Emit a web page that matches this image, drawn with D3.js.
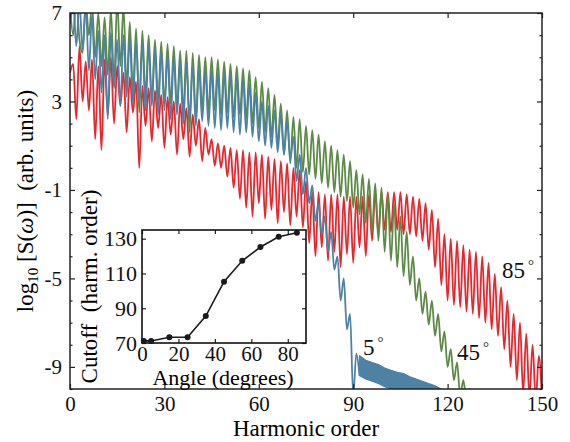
<!DOCTYPE html>
<html>
<head>
<meta charset="utf-8">
<script src="https://cdn.jsdelivr.net/npm/d3@7"></script>
<style>
  body { margin: 0; background: #fff; }
  svg { display: block; font-family: "Liberation Serif", "Times New Roman", serif; }
  .axis path { display: none; }
  .axis line { stroke: #222; stroke-width: 1.2; }
  .axis text { fill: #111; font-family: "Liberation Serif", "Times New Roman", serif; }
</style>
</head>
<body>
<script>
const width = 570,
    height = 442;

// log10 S(w) at each harmonic order, starting at order 0
const spectrum85 = [
    4.3, 4.7, 2.2, 5.5, 3.0, 4.8, 2.6, 4.9, 1.3, 4.6,
    0.8, 4.9, 2.4, 5.0, 2.0, 4.6, 2.8, 4.3, 1.6, 4.1,
    2.5, 3.9, 0.0, 3.7, 1.9, 3.6, 1.2, 3.5, 1.8, 3.3,
    0.9, 3.2, 1.5, 3.0, 0.6, 2.9, 1.3, 2.7, 0.5, 2.4,
    1.0, 2.2, 0.3, 1.8, 0.6, 1.3, 0.1, 1.1, 0.0, 1.0,
    -0.4, 0.9, -0.9, 0.8, -1.4, 0.8, -1.8, 0.7, -2.2, 0.7,
    -1.6, 0.6, -2.3, 0.5, -1.9, 0.4, -2.5, 0.3, -2.0, 0.2,
    -2.6, 0.0, -2.2, -0.1, -2.7, -0.6, -3.4, -1.1, -4.0, -1.1,
    -3.6, -1.2, -4.2, -1.2, -3.8, -1.2, -4.5, -1.3, -3.9, -1.3,
    -4.3, -1.3, -3.6, -1.3, -4.0, -1.2, -3.3, -1.1, -3.0, -1.1,
    -2.8, -1.1, -2.9, -1.1, -2.8, -1.1, -3.0, -1.2, -3.0, -1.3,
    -3.1, -1.4, -3.3, -1.6, -3.7, -1.9, -4.5, -2.3, -5.3, -3.0,
    -6.0, -3.2, -6.2, -3.3, -6.3, -3.5, -6.5, -3.7, -6.6, -3.8,
    -6.8, -4.0, -7.0, -4.3, -7.3, -4.8, -7.6, -5.4, -8.2, -6.0,
    -9.0, -6.6, -9.6, -7.0, -10.2, -7.5, -10.4, -8.0, -10.5, -8.5,
    -10.5
];

const spectrum45 = [
    7.4, 6.0, 7.6, 5.8, 5.2, 7.5, 6.0, 7.4, 5.0, 7.0,
    4.6, 6.8, 4.2, 7.2, 3.8, 7.6, 4.6, 7.3, 3.6, 6.6,
    3.4, 6.3, 2.5, 6.2, 3.2, 6.0, 3.0, 5.8, 3.0, 5.7,
    2.8, 5.6, 2.9, 5.5, 2.6, 5.3, 2.5, 5.3, 1.6, 5.2,
    2.2, 5.1, 2.6, 5.0, 2.5, 5.0, 2.6, 4.9, 2.4, 4.8,
    2.5, 4.7, 2.3, 4.6, 2.4, 4.5, 2.2, 4.4, 2.0, 4.1,
    1.8, 3.9, 1.6, 3.6, 1.4, 3.3, 1.0, 2.9, 0.6, 2.6,
    0.2, 2.3, 0.0, 2.2, -0.2, 1.9, -0.3, 1.7, -0.5, 1.5,
    -0.7, 1.2, -0.9, 1.0, -1.1, 0.8, -1.3, 0.6, -1.5, 0.3,
    -1.8, -0.1, -2.1, -0.3, -2.5, -0.5, -2.9, -0.7, -3.3, -0.9,
    -3.8, -1.2, -4.2, -1.6, -4.5, -2.2, -4.9, -2.9, -5.3, -4.0,
    -6.0, -5.0, -6.6, -5.6, -7.1, -6.0, -7.6, -6.6, -8.3, -7.4,
    -9.0, -8.2, -9.6, -8.8, -10.3, -9.6, -10.5, -10.0, -10.6
];

const spectrum5 = [
    6.5, 7.6, 5.5, 7.5, 5.3, 7.4, 4.4, 6.9, 4.0, 6.2,
    3.4, 6.0, 2.2, 6.1, 3.6, 5.8, 2.8, 6.0, 3.2, 5.9,
    2.9, 5.7, 3.0, 5.6, 2.6, 5.5, 2.8, 5.4, 2.4, 5.3,
    2.6, 5.1, 2.2, 5.0, 2.4, 4.8, 2.0, 4.7, 2.2, 4.6,
    1.9, 4.5, 2.1, 4.4, 1.9, 4.4, 1.8, 4.3, 1.7, 4.3,
    1.8, 4.2, 1.6, 4.1, 1.5, 4.0, 1.6, 3.8, 1.4, 3.4,
    1.2, 3.0, 1.0, 2.8, 0.9, 2.6, 0.7, 2.4, 0.6, 2.1,
    0.4, 1.4, -0.6, 0.6, -1.2, 0.0, -1.6, -0.8, -2.4, -1.6,
    -3.0, -2.2, -3.8, -2.9, -4.6, -4.0, -6.0, -5.0, -7.3, -6.6,
    -10.3, -8.4, -9.4
];

// noisy floor of the 5 degree spectrum past its cutoff
const tailOrders = [92, 94, 96, 98, 100, 102, 104, 106, 108, 110, 112, 114, 116, 118];
const tailTop = [-8.5, -8.7, -8.8, -8.9, -9.05, -9.15, -9.25, -9.3, -9.45, -9.55, -9.65, -9.75, -9.85, -10.0];
const tailBottom = [-9.4, -9.55, -9.65, -9.75, -9.9, -10.0, -10.1, -10.2, -10.3, -10.3, -10.3, -10.3, -10.3, -10.3];

// inset: cutoff vs angle
const angles = [1, 5, 15, 25, 35, 45, 55, 65, 75, 85];
const cutoffs = [71.2, 71.2, 73.3, 73.3, 85.5, 105.3, 117.3, 125.2, 131.1, 133.4];

const xTicks = [0, 30, 60, 90, 120, 150];
const yTicks = [7, 3, -1, -5, -9];
const insetXTicks = [0, 20, 40, 60, 80];
const insetYTicks = [70, 90, 110, 130];

const colors = {85: '#e8262c', 45: '#5b8a45', 5: '#4d82a4'};

const x = d3.scaleLinear().domain([0, 150]).range([70, 542]);
const y = d3.scaleLinear().domain([-10, 7]).range([389, 13]);

const ix = d3.scaleLinear().domain([0, 90]).range([142, 306]);
const iy = d3.scaleLinear().domain([70, 135]).range([343, 230]);

const plain = d => String(d);

const svg = d3.select('body').append('svg')
    .attr('width', width)
    .attr('height', height)
    ;

svg.append('clipPath').attr('id', 'plotclip')
    .append('rect')
    .attr('x', x(0)).attr('y', y(7))
    .attr('width', x(150) - x(0)).attr('height', y(-10) - y(7));

function renderSeries() {
    const g = svg.append('g').attr('clip-path', 'url(#plotclip)');
    const line = d3.line()
        .x((d, i) => x(i))
        .y(d => y(d))
        .curve(d3.curveMonotoneX)
        ;
    [[85, spectrum85], [45, spectrum45], [5, spectrum5]].forEach(([ang, vals]) => {
        g.append('path')
            .attr('d', line(vals))
            .attr('fill', 'none')
            .attr('stroke', colors[ang])
            .attr('stroke-width', 1.8)
            .attr('stroke-linejoin', 'round')
            ;
    });
    const area = d3.area()
        .x(d => x(d))
        .y0((d, i) => y(tailBottom[i]))
        .y1((d, i) => y(tailTop[i]))
        ;
    g.append('path')
        .attr('d', area(tailOrders))
        .attr('fill', colors[5])
        .attr('stroke', colors[5])
        .attr('stroke-width', 1.2)
        ;
}

function renderAxis() {
    const fs = 21;
    svg.append('g').attr('class', 'axis')
        .attr('transform', 'translate(0,' + y(-10) + ')')
        .call(d3.axisBottom(x).tickValues(xTicks).tickFormat(plain).tickSize(-5).tickSizeOuter(0).tickPadding(7))
        .selectAll('text').attr('font-size', fs);
    svg.append('g').attr('class', 'axis')
        .attr('transform', 'translate(0,' + y(7) + ')')
        .call(d3.axisTop(x).tickValues(xTicks).tickSize(-5).tickSizeOuter(0).tickFormat(''));

    svg.append('g').attr('class', 'axis')
        .attr('transform', 'translate(' + x(0) + ',0)')
        .call(d3.axisLeft(y).tickValues(yTicks).tickFormat(plain).tickSize(-5).tickSizeOuter(0).tickPadding(8))
        .selectAll('text').attr('font-size', fs);
    svg.append('g').attr('class', 'axis')
        .attr('transform', 'translate(' + x(150) + ',0)')
        .call(d3.axisRight(y).tickValues(yTicks).tickSize(-5).tickSizeOuter(0).tickFormat(''));

    const minor = d3.range(-10, 8).filter(v => !yTicks.includes(v));
    svg.append('g').attr('class', 'axis')
        .attr('transform', 'translate(' + x(0) + ',0)')
        .call(d3.axisLeft(y).tickValues(minor).tickSize(-2.5).tickSizeOuter(0).tickFormat(''));
    svg.append('g').attr('class', 'axis')
        .attr('transform', 'translate(' + x(150) + ',0)')
        .call(d3.axisRight(y).tickValues(minor).tickSize(-2.5).tickSizeOuter(0).tickFormat(''));

    svg.append('rect')
        .attr('x', x(0)).attr('y', y(7))
        .attr('width', x(150) - x(0)).attr('height', y(-10) - y(7))
        .attr('fill', 'none').attr('stroke', '#222').attr('stroke-width', 1.5);

    svg.append('text')
        .attr('x', (x(0) + x(150)) / 2).attr('y', 436)
        .attr('text-anchor', 'middle').attr('font-size', 23)
        .text('Harmonic order');

    const yl = svg.append('text')
        .attr('transform', 'translate(33,' + (y(7) + y(-10)) / 2 + ') rotate(-90)')
        .attr('text-anchor', 'middle').attr('font-size', 23);
    yl.append('tspan').text('log');
    yl.append('tspan').attr('font-size', 15).attr('dy', 5).text('10');
    yl.append('tspan').attr('dy', -5).text(' [S(');
    yl.append('tspan').attr('font-style', 'italic').text('\u03c9');
    yl.append('tspan').text(')]\u00a0 (arb. units)');
}

function renderLabels() {
    const labels = [
        {t: '5', x: 363, y: 355},
        {t: '45', x: 457, y: 360},
        {t: '85', x: 502, y: 278}
    ];
    labels.forEach(l => {
        const t = svg.append('text')
            .attr('x', l.x).attr('y', l.y)
            .attr('font-size', 23).attr('fill', '#111');
        t.append('tspan').text(l.t);
        t.append('tspan').attr('dx', 3).attr('dy', -8).attr('font-size', 15).text('\u00b0');
    });
}

function renderInset() {
    const g = svg.append('g');
    g.append('rect')
        .attr('x', ix(0)).attr('y', iy(135))
        .attr('width', ix(90) - ix(0)).attr('height', iy(70) - iy(135))
        .attr('fill', '#fff');

    const fs = 21;
    g.append('g').attr('class', 'axis')
        .attr('transform', 'translate(0,' + iy(70) + ')')
        .call(d3.axisBottom(ix).tickValues(insetXTicks).tickFormat(plain).tickSize(-4).tickSizeOuter(0).tickPadding(3))
        .selectAll('text').attr('font-size', fs);
    g.append('g').attr('class', 'axis')
        .attr('transform', 'translate(0,' + iy(135) + ')')
        .call(d3.axisTop(ix).tickValues(insetXTicks).tickSize(-4).tickSizeOuter(0).tickFormat(''));
    g.append('g').attr('class', 'axis')
        .attr('transform', 'translate(' + ix(0) + ',0)')
        .call(d3.axisLeft(iy).tickValues(insetYTicks).tickFormat(plain).tickSize(-4).tickSizeOuter(0).tickPadding(5))
        .selectAll('text').attr('font-size', fs + 1);
    g.append('g').attr('class', 'axis')
        .attr('transform', 'translate(' + ix(90) + ',0)')
        .call(d3.axisRight(iy).tickValues(insetYTicks).tickSize(-4).tickSizeOuter(0).tickFormat(''));

    g.append('rect')
        .attr('x', ix(0)).attr('y', iy(135))
        .attr('width', ix(90) - ix(0)).attr('height', iy(70) - iy(135))
        .attr('fill', 'none').attr('stroke', '#111').attr('stroke-width', 1.6);

    const line = d3.line()
        .x((d, i) => ix(angles[i]))
        .y(d => iy(d));
    g.append('path')
        .attr('d', line(cutoffs))
        .attr('fill', 'none').attr('stroke', '#1a1a1a').attr('stroke-width', 1.6);
    g.selectAll('circle.pt')
        .data(cutoffs)
        .enter()
        .append('circle')
        .attr('class', 'pt')
        .attr('cx', (d, i) => ix(angles[i]))
        .attr('cy', d => iy(d))
        .attr('r', 3)
        .attr('fill', '#1a1a1a');

    g.append('text')
        .attr('x', (ix(0) + ix(90)) / 2 - 1).attr('y', 385)
        .attr('text-anchor', 'middle').attr('font-size', 22)
        .text('Angle (degrees)');
    g.append('text')
        .attr('transform', 'translate(97,' + (iy(70) + iy(135)) / 2 + ') rotate(-90)')
        .attr('text-anchor', 'middle').attr('font-size', 23)
        .text('Cutoff\u00a0 (harm. order)');
}

renderSeries();
renderAxis();
renderLabels();
renderInset();
</script>
</body>
</html>
